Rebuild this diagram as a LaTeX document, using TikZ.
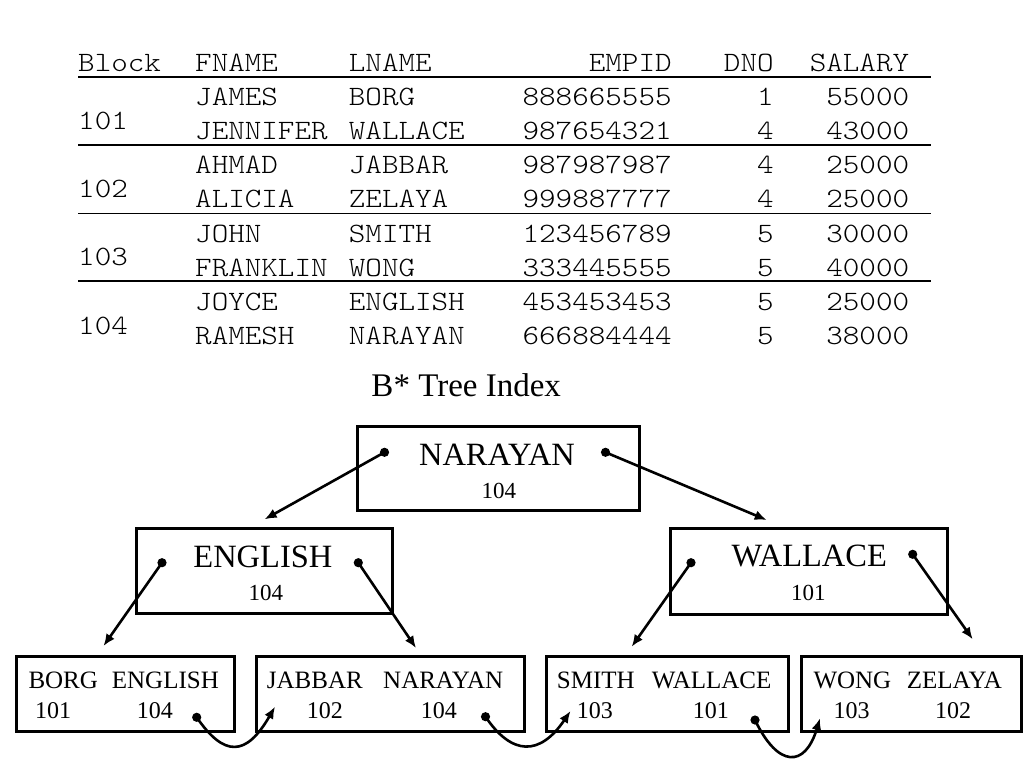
\documentclass[tikz,border=0pt]{standalone}
\usepackage{fontspec}
\usepackage{graphicx}
\setmainfont{Liberation Serif}
\usetikzlibrary{arrows.meta}
\newcommand\mt[1]{\scalebox{1.126}[1]{#1}}
\begin{document}
\begin{tikzpicture}[x=1pt,y=-1pt,
  tcell/.style={inner sep=0pt,font=\ttfamily\fontseries{l}\fontsize{28}{30}\selectfont},
  tw/.style={tcell,anchor=base west},
  te/.style={tcell,anchor=base east},
  rule/.style={line width=1.6pt},
  box/.style={draw,line width=3pt,inner sep=0pt,minimum width=#1},
  big/.style={inner sep=0pt,anchor=base,font=\fontsize{32.5}{34}\selectfont},
  small/.style={inner sep=0pt,anchor=base,font=\fontsize{23}{25}\selectfont},
  leaf/.style={inner sep=0pt,anchor=base west,font=\fontsize{25}{27}\selectfont},
  leafnum/.style={inner sep=0pt,anchor=base west,font=\fontsize{24}{26}\selectfont},
  ptr/.style={line width=2.6pt,-{Latex[length=12pt,width=10pt]}},
  dotc/.style={fill=black}
]
\useasboundingbox (0,0) rectangle (1024,768);

% ---------- table ----------
\node[tw] (hB) at (78,71) {\mt{Block}};
\node[tw] (hF) at (195,71) {\mt{FNAME}};
\node[tw] (hL) at (348.7,71) {\mt{LNAME}};
\node[te] (hE) at (671.8,71) {\mt{EMPID}};
\node[te] (hD) at (773.8,71) {\mt{DNO}};
\node[te] (hS) at (909.3,71) {\mt{SALARY}};

\coordinate (l0a) at (78,76.7);  \coordinate (l0b) at (931,76.7);
\coordinate (l1a) at (78,145);   \coordinate (l1b) at (931,145);
\coordinate (l2a) at (78,213.3); \coordinate (l2b) at (931,213.3);
\coordinate (l3a) at (78,280.7); \coordinate (l3b) at (931,280.7);
\draw[rule] (l0a) -- (l0b);
\draw[rule] (l1a) -- (l1b);
\draw[rule] (l2a) -- (l2b);
\draw[rule] (l3a) -- (l3b);

\foreach \i/\f/\l/\e/\d/\s in {
  0/JAMES/BORG/888665555/1/55000,
  1/JENNIFER/WALLACE/987654321/4/43000,
  2/AHMAD/JABBAR/987987987/4/25000,
  3/ALICIA/ZELAYA/999887777/4/25000,
  4/JOHN/SMITH/123456789/5/30000,
  5/FRANKLIN/WONG/333445555/5/40000,
  6/JOYCE/ENGLISH/453453453/5/25000,
  7/RAMESH/NARAYAN/666884444/5/38000}{
  \pgfmathsetmacro{\yy}{105.3+34.2*\i}
  \node[tw] (f\i) at (195,\yy) {\mt{\f}};
  \node[tw] (n\i) at (348.7,\yy) {\mt{\l}};
  \node[te] (e\i) at (671.8,\yy) {\mt{\e}};
  \node[te] (d\i) at (773.8,\yy) {\mt{\d}};
  \node[te] (s\i) at (909.3,\yy) {\mt{\s}};
}
\node[tw] (b101) at (78,129.2) {\mt{101}};
\node[tw] (b102) at (78,197.6) {\mt{102}};
\node[tw] (b103) at (78,265.8) {\mt{103}};
\node[tw] (b104) at (78,334.2) {\mt{104}};

% ---------- title ----------
\node[inner sep=0pt,anchor=base,font=\fontsize{33}{35}\selectfont] (title) at (466.2,396.7) {B* Tree Index};

% ---------- tree boxes ----------
\node[box=281.7,minimum height=84.7] (root) at (498.5,468.4) {};
\node[box=256.2,minimum height=85] (eng) at (264.6,570.8) {};
\node[box=277,minimum height=85.7] (wal) at (809.2,571.2) {};
\node[box=218.3,minimum height=75.7] (lf1) at (125.2,693.9) {};
\node[box=268.3,minimum height=75.7] (lf2) at (390.2,693.9) {};
\node[box=242,minimum height=75.7] (lf3) at (667.3,693.9) {};
\node[box=220,minimum height=75.7] (lf4) at (911.7,693.9) {};

\node[big] (rootk) at (497,465) {NARAYAN};
\node[small] (rootb) at (498.9,498.3) {104};
\node[big] (engk) at (262.9,567.3) {ENGLISH};
\node[small] (engb) at (265.8,600) {104};
\node[big] (walk) at (809.3,566.7) {WALLACE};
\node[small] (walb) at (808.3,600) {101};

\node[leaf] (k11) at (28.3,688.3) {BORG};
\node[leaf] (k12) at (111.7,688.3) {ENGLISH};
\node[leafnum] (p11) at (35,718.3) {101};
\node[leafnum] (p12) at (136.7,718.3) {104};
\node[leaf] (k21) at (266.7,688.3) {JABBAR};
\node[leaf] (k22) at (383,688.3) {NARAYAN};
\node[leafnum] (p21) at (306.7,718.3) {102};
\node[leafnum] (p22) at (420.7,718.3) {104};
\node[leaf] (k31) at (556.7,688.3) {SMITH};
\node[leaf] (k32) at (651.7,688.3) {WALLACE};
\node[leafnum] (p31) at (576.7,718.3) {103};
\node[leafnum] (p32) at (692.7,718.3) {101};
\node[leaf] (k41) at (813.3,688.3) {WONG};
\node[leaf] (k42) at (906.7,688.3) {ZELAYA};
\node[leafnum] (p41) at (833.3,718.3) {103};
\node[leafnum] (p42) at (935,718.3) {102};

% ---------- pointer origins and tips ----------
\coordinate (rL) at (384.5,452.3);
\coordinate (rR) at (605.5,452.3);
\coordinate (eL) at (162,562.7);
\coordinate (eR) at (358.3,562.7);
\coordinate (wL) at (691,562.7);
\coordinate (wR) at (912.7,554.3);
\coordinate (q1) at (196.7,717.3);
\coordinate (q2) at (485.5,716.7);
\coordinate (q3) at (755,720);

\coordinate (tEng) at (264.6,519.3);
\coordinate (tWal) at (766.7,520);
\coordinate (tL1) at (103.5,646);
\coordinate (tL2) at (416,648);
\coordinate (tL3) at (631.7,646.7);
\coordinate (tL4) at (972.7,639.3);
\coordinate (tN2) at (275,706.7);
\coordinate (tN3) at (570.5,711);
\coordinate (tN4) at (820,718.3);

\foreach \c in {rL,rR,eL,eR,wL,wR,q1,q2,q3}{
  \fill[dotc] (\c) circle[radius=4.6pt];
}

\draw[ptr] (rL) -- (tEng);
\draw[ptr] (rR) -- (tWal);
\draw[ptr] (eL) -- (tL1);
\draw[ptr] (eR) -- (tL2);
\draw[ptr] (wL) -- (tL3);
\draw[ptr] (wR) -- (tL4);

\draw[ptr] (q1) .. controls (224,757) and (246,757) .. (tN2);
\draw[ptr] (q2) .. controls (512,756) and (540,756) .. (tN3);
\draw[ptr] (q3) .. controls (778,768) and (805,768) .. (tN4);
\end{tikzpicture}
\end{document}
